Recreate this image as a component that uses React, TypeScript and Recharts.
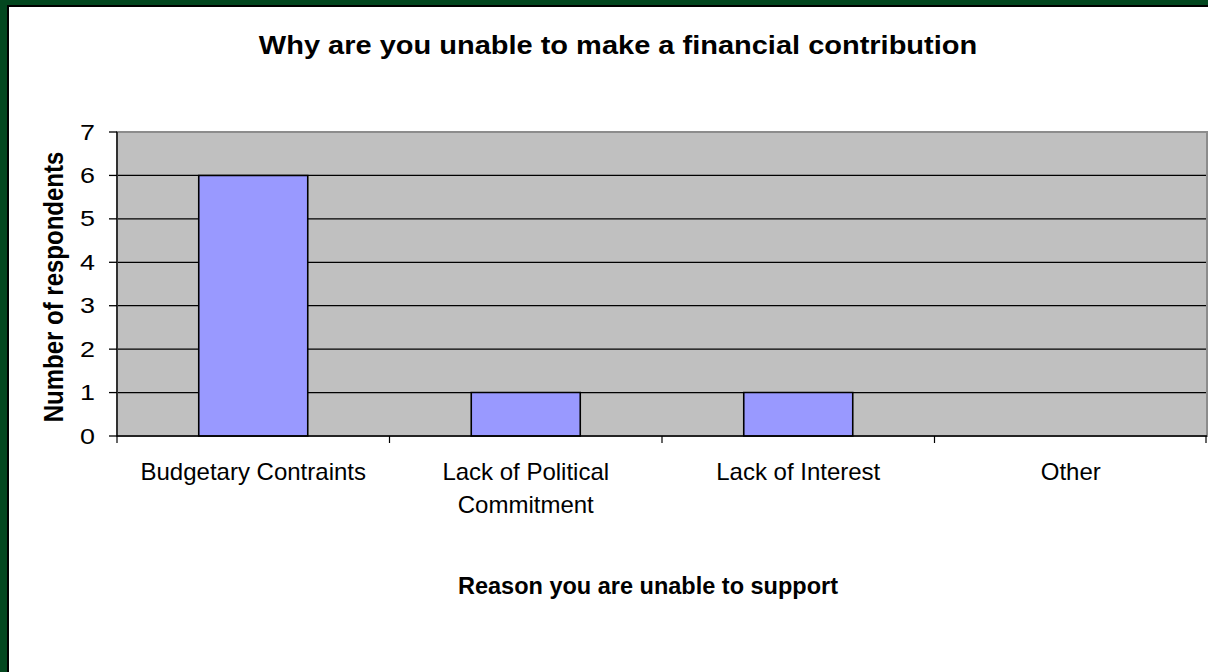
import React from "react";
import { BarChart, Bar, XAxis, YAxis, CartesianGrid, ReferenceArea } from "recharts";

const categories = [
  "Budgetary Contraints",
  "Lack of Political Commitment",
  "Lack of Interest",
  "Other",
];
const respondents = [6, 1, 1, 0];
const tickLabelLines = [
  ["Budgetary Contraints"],
  ["Lack of Political", "Commitment"],
  ["Lack of Interest"],
  ["Other"],
];
const yTicks = [0, 1, 2, 3, 4, 5, 6, 7];
const chartTitle = "Why are you unable to make a financial contribution";
const xAxisTitle = "Reason you are unable to support";
const yAxisTitle = "Number of respondents";

const data = categories.map((category, i) => ({
  category,
  respondents: respondents[i],
}));

const FONT = '"Liberation Sans", Arial, Helvetica, sans-serif';
const W = 1208;
const H = 672;
const X_TICK_SIZE = 7;
const X_TICK_MARGIN = 0;

function XTick(props: any) {
  const { x, y, payload, index, width } = props;
  const half =
    payload && typeof payload.offset === "number" && payload.offset > 0
      ? payload.offset
      : width / categories.length / 2;
  const axisY = y - X_TICK_SIZE - X_TICK_MARGIN;
  const lines = tickLabelLines[index] ?? [String(payload.value)];
  return (
    <g>
      <line x1={x - half} x2={x - half} y1={axisY} y2={axisY + 7} stroke="#000" strokeWidth={1.2} />
      {index === categories.length - 1 && (
        <line x1={x + half - 1} x2={x + half - 1} y1={axisY} y2={axisY + 7} stroke="#000" strokeWidth={1.2} />
      )}
      <text x={x} y={axisY + 44} textAnchor="middle" fontSize={24} fill="#000" fontFamily={FONT}>
        {lines.map((l: string, i: number) => (
          <tspan key={i} x={x} dy={i === 0 ? 0 : 33}>
            {l}
          </tspan>
        ))}
      </text>
    </g>
  );
}

function YTick(props: any) {
  const { x, y, payload } = props;
  return (
    <text
      transform={`translate(${x},${y}) scale(1.25,1)`}
      x={0}
      y={7.5}
      textAnchor="end"
      fontSize={21.5}
      fill="#000"
      fontFamily={FONT}
    >
      {payload.value}
    </text>
  );
}

export default function App() {
  return (
    <div style={{ position: "absolute", left: 0, top: 0, width: W, height: H, background: "#03471F", overflow: "hidden", fontFamily: FONT }}>
      <div
        style={{
          position: "absolute",
          left: 7,
          top: 5,
          width: W - 7,
          height: H - 5,
          background: "#fff",
          borderLeft: "2px solid #000",
          borderTop: "2px solid #000",
          boxSizing: "border-box",
        }}
      />
      <div style={{ position: "absolute", left: 0, top: 0 }}>
        <BarChart
          width={W}
          height={H}
          data={data}
          margin={{ top: 132, right: 1, bottom: 176, left: 0 }}
          barCategoryGap="30%"
        >
          <CartesianGrid vertical={false} stroke="#000" strokeWidth={1.3} fill="#C0C0C0" fillOpacity={1} />
          <ReferenceArea y1={0} y2={7} fill="none" stroke="#8C8C8C" strokeWidth={2} />
          <XAxis
            dataKey="category"
            tick={<XTick />}
            tickLine={false}
            axisLine={{ stroke: "#000", strokeWidth: 1.5 }}
            tickSize={X_TICK_SIZE}
            tickMargin={X_TICK_MARGIN}
            height={60}
            interval={0}
          />
          <YAxis
            type="number"
            domain={[0, 7]}
            ticks={yTicks}
            interval={0}
            width={117}
            tickSize={8}
            tickMargin={14}
            axisLine={{ stroke: "#000", strokeWidth: 1.3 }}
            tickLine={{ stroke: "#000", strokeWidth: 1.3 }}
            tick={<YTick />}
          />
          <Bar dataKey="respondents" fill="#9999FF" stroke="#000" strokeWidth={1.6} isAnimationActive={false} />
        </BarChart>
      </div>
      <svg width={W} height={H} style={{ position: "absolute", left: 0, top: 0, pointerEvents: "none" }}>
        <text
          transform="translate(618,54) scale(1.16,1)"
          textAnchor="middle"
          fontSize={25}
          fontWeight="bold"
          fill="#000"
          fontFamily={FONT}
        >
          {chartTitle}
        </text>
        <text
          transform="translate(63,287) scale(1.15,1) rotate(-90)"
          textAnchor="middle"
          fontSize={24}
          fontWeight="bold"
          fill="#000"
          fontFamily={FONT}
        >
          {yAxisTitle}
        </text>
        <text x={648} y={594} textAnchor="middle" fontSize={23.5} fontWeight="bold" fill="#000" fontFamily={FONT}>
          {xAxisTitle}
        </text>
      </svg>
    </div>
  );
}
